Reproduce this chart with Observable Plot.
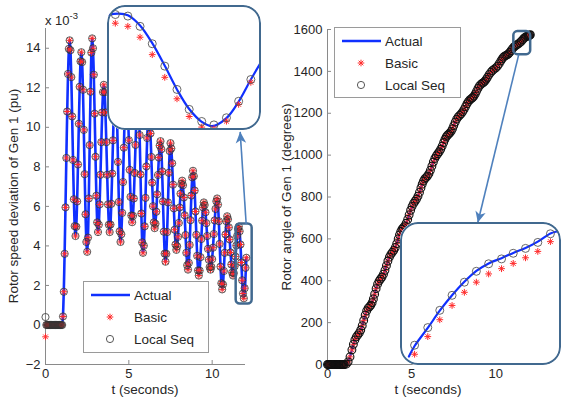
<!DOCTYPE html>
<html><head><meta charset="utf-8">
<script src="https://cdn.jsdelivr.net/npm/d3@7"></script>
<script src="https://cdn.jsdelivr.net/npm/@observablehq/plot@0.6"></script>
<style>
body{margin:0;background:#fff;}
#wrap{position:relative;width:562px;height:400px;overflow:hidden;background:#fff;font-family:"Liberation Sans",Arial,Helvetica,sans-serif;color:#262626;}
.txt{position:absolute;white-space:nowrap;line-height:1;}
.ylab{position:absolute;white-space:nowrap;font-size:13.5px;line-height:1;transform:translate(-50%,-50%) rotate(-90deg);}
.inset{position:absolute;border-radius:18px;overflow:hidden;background:#fff;}
.inset .bd{position:absolute;left:0;top:0;right:0;bottom:0;border:2.5px solid #41698f;border-radius:18px;box-sizing:border-box;}
.legend{position:absolute;border:1px solid #9a9a9a;background:#fff;box-sizing:border-box;}
.legend svg text{font-family:"Liberation Sans",Arial,sans-serif;font-size:13.5px;fill:#262626;}
</style></head>
<body>
<div id="wrap"></div>
<script>
// ---------------- DATA ----------------
// Left panel: rotor speed deviation of Gen 1 (x 1e-3 pu)
// "Actual" trajectory: read extremes (peaks / troughs) of the oscillation
const actualSpeedT = [0, 1.00, 1.45, 1.80, 2.15, 2.50, 2.80, 3.15, 3.50, 3.85, 4.20, 4.50, 4.85, 5.20, 5.55, 5.85, 6.20, 6.55, 6.90, 7.20, 7.50, 7.85, 8.20, 8.55, 8.85, 9.20, 9.50, 9.90, 10.30, 10.60, 10.90, 11.25, 11.60, 11.90, 12.05];
const actualSpeedV = [0, 0, 14.4, 4.5, 13.8, 3.7, 14.5, 4.7, 12.15, 4.7, 12.3, 4.2, 12.0, 5.2, 11.6, 3.65, 10.8, 4.9, 9.3, 3.2, 9.2, 3.8, 7.3, 2.8, 7.8, 2.5, 6.2, 2.8, 6.4, 1.8, 5.5, 2.5, 4.98, 1.35, 3.4];
// estimator samples, one every 0.05 s (rows = 1 s each)
const speedStep = 0.05;
const speedLocal = [
  0.4, 0, 0, 0, 0, 0, 0, 0, 0, 0, 0, 0, 0, 0, 0, 0, 0, 0, 0, 0,
  0, 0.43, 1.68, 3.6, 5.95, 8.45, 10.8, 12.7, 13.97, 14.4, 13.9, 12.54, 10.55, 8.35, 6.36, 5.0, 4.5, 4.97, 6.25, 8.12,
  10.18, 12.05, 13.34, 13.8, 13.3, 11.9, 9.87, 7.63, 5.6, 4.2, 3.7, 4.42, 6.4, 9.1, 11.8, 13.78, 14.5, 14.0, 12.66, 10.69,
  8.51, 6.54, 5.19, 4.7, 5.07, 6.1, 7.6, 9.25, 10.75, 11.78, 12.15, 11.78, 10.75, 9.25, 7.6, 6.1, 5.07, 4.7, 5.08, 6.13,
  7.66, 9.34, 10.87, 11.92, 12.3, 11.76, 10.27, 8.25, 6.22, 4.74, 4.2, 4.59, 5.67, 7.23, 8.97, 10.53, 11.61, 12.0, 11.66, 10.72,
  9.35, 7.85, 6.48, 5.54, 5.2, 5.52, 6.4, 7.69, 9.11, 10.4, 11.28, 11.6, 11.07, 9.61, 7.62, 5.64, 4.18, 3.65, 4.01, 4.99,
  6.43, 8.02, 9.46, 10.44, 10.8, 10.5, 9.69, 8.5, 7.2, 6.01, 5.19, 4.9, 5.12, 5.73, 6.61, 7.59, 8.47, 9.08, 9.3, 8.89,
  7.77, 6.25, 4.72, 3.61, 3.2, 3.6, 4.7, 6.2, 7.7, 8.8, 9.2, 8.93, 8.18, 7.1, 5.9, 4.82, 4.07, 3.8, 3.98, 4.46,
  5.16, 5.94, 6.64, 7.13, 7.3, 7.07, 6.45, 5.55, 4.55, 3.65, 3.02, 2.8, 3.14, 4.05, 5.3, 6.55, 7.47, 7.8, 7.53, 6.8,
  5.74, 4.56, 3.5, 2.76, 2.5, 2.75, 3.43, 4.35, 5.28, 5.95, 6.2, 6.07, 5.7, 5.15, 4.5, 3.85, 3.3, 2.93, 2.8, 2.94,
  3.33, 3.91, 4.6, 5.29, 5.87, 6.26, 6.4, 6.09, 5.25, 4.1, 2.95, 2.11, 1.8, 2.05, 2.73, 3.65, 4.58, 5.25, 5.5, 5.35,
  4.94, 4.33, 3.67, 3.06, 2.65, 2.5, 2.62, 2.97, 3.46, 4.02, 4.51, 4.86, 4.98, 4.74, 4.07, 3.16, 2.26, 1.59, 1.35, 1.86,
  2.89, 3.4
];
// Basic coincides with Local Seq at this scale except the first sample
const speedBasicFirst = -0.6;
const speedXTicks = [0, 5, 10];
const speedYTicks = [-2, 0, 2, 4, 6, 8, 10, 12, 14];
const speedZoomBox = {t1: 11.44, t2: 12.4, v1: 1.06, v2: 5.11};
const speedArrow = {t1: 12.04, v1: 5.11, t2: 11.68, v2: 9.77};

// Left inset (zoom of the last swing)
const insetSpeedT = [11.590, 11.630, 11.669, 11.708, 11.748, 11.787, 11.826, 11.866, 11.905, 11.945, 11.984, 12.023];
const insetSpeedLocal = [4.95, 4.90, 4.57, 4.01, 3.29, 2.54, 1.90, 1.51, 1.40, 1.63, 2.16, 2.86];
const insetSpeedBasic = [4.67, 4.57, 4.22, 3.66, 2.93, 2.24, 1.67, 1.33, 1.28, 1.52, 2.06, 2.77];
const insetSpeedActualT = [11.565, 11.600, 11.630, 11.669, 11.708, 11.748, 11.787, 11.826, 11.866, 11.899, 11.945, 11.984, 12.023, 12.060];
const insetSpeedActualV = [4.94, 4.98, 4.93, 4.60, 4.03, 3.30, 2.54, 1.91, 1.50, 1.36, 1.62, 2.15, 2.86, 3.50];

// Right panel: rotor angle of Gen 1 (degrees) — swing extremes and mid-swing points
const angleT = [0, 0.1, 0.2, 0.3, 0.4, 0.5, 0.6, 0.7, 0.8, 0.9, 1.0, 1.225, 1.45, 1.625, 1.8, 1.975, 2.15, 2.325, 2.5, 2.65, 2.8, 2.975, 3.15, 3.325, 3.5, 3.675, 3.85, 4.025, 4.2, 4.35, 4.5, 4.675, 4.85, 5.025, 5.2, 5.375, 5.55, 5.7, 5.85, 6.025, 6.2, 6.375, 6.55, 6.725, 6.9, 7.05, 7.2, 7.35, 7.5, 7.675, 7.85, 8.025, 8.2, 8.375, 8.55, 8.7, 8.85, 9.025, 9.2, 9.35, 9.5, 9.7, 9.9, 10.1, 10.3, 10.45, 10.6, 10.75, 10.9, 11.075, 11.25, 11.425, 11.6, 11.75, 11.9, 11.975, 12.05];
const angleV = [0, 0, 0, 0, 0, 0, 0, 0, 0, 0, 0, 12.7, 70, 117.6, 141.4, 164.8, 210.6, 255.8, 276.8, 295.2, 335.7, 383.8, 408.3, 431.2, 472, 512.8, 535.7, 558.7, 600, 635.1, 653.5, 674.7, 714.7, 755.4, 779.7, 803.8, 843.2, 876.1, 892.6, 911.3, 947.2, 984, 1006.5, 1028, 1060.2, 1086.7, 1100.7, 1114.6, 1140.9, 1172, 1190, 1206.8, 1232, 1256.5, 1270.2, 1282.2, 1304.5, 1330.3, 1343.4, 1353.7, 1371.6, 1395.7, 1410.5, 1425.4, 1450.2, 1467.7, 1476, 1483.8, 1499, 1516.4, 1527, 1536.9, 1552, 1563.6, 1569, 1571.2, 1575];
// quarter-swing points (denser sampling of the same trajectory)
const angleQuarterT = [0.05, 0.15, 0.25, 0.35, 0.45, 0.55, 0.65, 0.75, 0.85, 0.95, 1.1125, 1.3375, 1.5375, 1.7125, 1.8875, 2.0625, 2.2375, 2.4125, 2.575, 2.725, 2.8875, 3.0625, 3.2375, 3.4125, 3.5875, 3.7625, 3.9375, 4.1125, 4.275, 4.425, 4.5875, 4.7625, 4.9375, 5.1125, 5.2875, 5.4625, 5.625, 5.775, 5.9375, 6.1125, 6.2875, 6.4625, 6.6375, 6.8125, 6.975, 7.125, 7.275, 7.425, 7.5875, 7.7625, 7.9375, 8.1125, 8.2875, 8.4625, 8.625, 8.775, 8.9375, 9.1125, 9.275, 9.425, 9.6, 9.8, 10.0, 10.2, 10.375, 10.525, 10.675, 10.825, 10.9875, 11.1625, 11.3375, 11.5125, 11.675, 11.825, 11.9375, 12.0125];
const angleQuarterV = [0, 0, 0, 0, 0, 0, 0, 0, 0, 0, 1.7, 36.7, 96.3, 132.0, 150.8, 185.4, 235.7, 268.8, 283.7, 313.2, 362.2, 398.5, 417.9, 449.7, 494.3, 526.1, 545.3, 577.4, 619.3, 646.0, 662.2, 692.8, 736.7, 769.3, 790.1, 821.9, 861.4, 886.1, 900.2, 927.5, 967.1, 996.7, 1016.2, 1043.0, 1074.8, 1095.0, 1106.4, 1126.5, 1157.8, 1182.4, 1197.5, 1218.5, 1245.4, 1264.5, 1275.1, 1292.3, 1318.7, 1338.2, 1347.7, 1361.8, 1384.6, 1404.1, 1416.9, 1436.8, 1459.9, 1472.8, 1479.1, 1490.6, 1508.4, 1522.4, 1531.4, 1543.9, 1558.5, 1566.9, 1569.9, 1572.9];
const angleXTicks = [0, 5, 10];
const angleYTicks = [0, 200, 400, 600, 800, 1000, 1200, 1400, 1600];
const angleZoomBox = {t1: 11.07, t2: 12.07, v1: 1480, v2: 1590};
const angleArrow = {t1: 11.36, v1: 1480, t2: 8.93, v2: 678};

// Right inset (zoom of the end of the trajectory)
const insetAngleT = [11.589, 11.633, 11.673, 11.714, 11.755, 11.795, 11.836, 11.879, 11.918, 11.959, 12.000, 12.042];
const insetAngleLocal = [1536.0, 1540.7, 1545.3, 1549.3, 1552.8, 1555.7, 1557.7, 1559.0, 1560.5, 1561.8, 1563.4, 1565.7];
const insetAngleBasic = [1533.6, 1538.3, 1542.8, 1546.6, 1550.1, 1552.8, 1555.0, 1556.4, 1557.8, 1559.3, 1561.0, 1563.6];
const insetAngleActualT = [11.570, 11.589, 11.633, 11.673, 11.714, 11.755, 11.795, 11.836, 11.879, 11.918, 11.959, 12.000, 12.042, 12.064];
const insetAngleActualV = [1533.0, 1535.8, 1540.6, 1545.2, 1549.3, 1552.9, 1555.8, 1557.8, 1559.2, 1560.6, 1561.9, 1563.6, 1565.8, 1566.3];

const seriesNames = ["Actual", "Basic", "Local Seq"];

// ---------------- STYLE ----------------
const FONT = '"Liberation Sans", Arial, Helvetica, sans-serif';
const BLUE = "#1030ff", RED = "#ff2b2b", CIRC = "#333", FRAME = "#41698f", ARROW = "#4f81bd", AXIS = "#8a8a8a", TXT = "#262626";

const asterisk8 = {
  draw(ctx, size) {
    const r = Math.sqrt(size / Math.PI), d = r * Math.SQRT1_2;
    ctx.moveTo(-r, 0); ctx.lineTo(r, 0);
    ctx.moveTo(0, -r); ctx.lineTo(0, r);
    ctx.moveTo(-d, -d); ctx.lineTo(d, d);
    ctx.moveTo(-d, d); ctx.lineTo(d, -d);
  }
};
const arrowHead = {
  draw(ctx, size) {
    const s = Math.sqrt(size / Math.PI);
    ctx.moveTo(0, 0); ctx.lineTo(-s * 0.75, s * 1.6); ctx.lineTo(0, s * 1.15); ctx.lineTo(s * 0.75, s * 1.6); ctx.closePath();
  }
};

const wrap = document.getElementById("wrap");
function place(el, left, top, parent = wrap) {
  el.style.position = "absolute"; el.style.left = left + "px"; el.style.top = top + "px";
  parent.appendChild(el); return el;
}
const baseStyle = {fontFamily: FONT, fontSize: "13px", color: TXT, background: "none", overflow: "visible"};

function axes(xt, yt) {
  return [
    Plot.axisX(xt, {tickSize: 0, tickPadding: 4, stroke: "none", fill: TXT, label: null, tickFormat: d3.format("d")}),
    Plot.axisX(xt, {tickSize: -4, fill: "none", stroke: AXIS, label: null}),
    Plot.axisY(yt, {tickSize: 0, tickPadding: 5, stroke: "none", fill: TXT, label: null, tickFormat: d3.format("d")}),
    Plot.axisY(yt, {tickSize: -4, fill: "none", stroke: AXIS, label: null})
  ];
}

// ---------------- LEFT PANEL ----------------
const speedRows = speedLocal.map((v, i) => ({t: i * speedStep, local: v, basic: i === 0 ? speedBasicFirst : v}));
const actualSpeedRows = actualSpeedT.map((t, i) => ({t, v: actualSpeedV[i]}));
const left = Plot.plot({
  width: 280, height: 400, marginLeft: 45, marginRight: 35, marginTop: 28, marginBottom: 36,
  style: baseStyle,
  x: {domain: [0, 12]}, y: {domain: [-2, 15]},
  marks: [
    ...axes(speedXTicks, speedYTicks),
    Plot.ruleX([0], {y1: -2, y2: 15, stroke: AXIS}),
    Plot.ruleY([-2], {x1: 0, x2: 12, stroke: AXIS}),
    Plot.line(actualSpeedRows, {x: "t", y: "v", curve: "monotone-x", stroke: BLUE, strokeWidth: 2.6}),
    Plot.dot(speedRows, {x: "t", y: "basic", symbol: asterisk8, r: 3.3, stroke: RED, strokeWidth: 1, fill: "none"}),
    Plot.dot(speedRows, {x: "t", y: "local", r: 3.6, stroke: CIRC, strokeWidth: 0.8, fill: "none"}),
    Plot.rect([speedZoomBox], {x1: "t1", x2: "t2", y1: "v1", y2: "v2", rx: 4, fill: "none", stroke: FRAME, strokeWidth: 2.5}),
    Plot.link([speedArrow], {x1: "t1", y1: "v1", x2: "t2", y2: "v2", stroke: ARROW, strokeWidth: 1.6}),
    Plot.dot([speedArrow], {x: "t2", y: "v2", symbol: arrowHead, r: 7, fill: ARROW, stroke: "none", rotate: -4})
  ]
});
place(left, 0, 0);

// ---------------- RIGHT PANEL ----------------
const angleRows = [
  ...angleT.map((t, i) => ({t, v: angleV[i]})),
  ...angleQuarterT.map((t, i) => ({t, v: angleQuarterV[i]}))
].sort((a, b) => a.t - b.t);
const right = Plot.plot({
  width: 249, height: 400, marginLeft: 47, marginRight: 0, marginTop: 29, marginBottom: 36,
  style: baseStyle,
  x: {domain: [0, 12]}, y: {domain: [0, 1600]},
  marks: [
    ...axes(angleXTicks, angleYTicks),
    Plot.ruleX([0], {y1: 0, y2: 1600, stroke: AXIS}),
    Plot.ruleY([0], {x1: 0, x2: 12, stroke: AXIS}),
    Plot.line(angleRows, {x: "t", y: "v", curve: "monotone-x", stroke: BLUE, strokeWidth: 2.2}),
    Plot.dot(angleRows, {x: "t", y: "v", symbol: asterisk8, r: 3.2, stroke: RED, strokeWidth: 0.9, fill: "none"}),
    Plot.dot(angleRows, {x: "t", y: "v", r: 3.9, stroke: "#111", strokeWidth: 1.1, fill: "none"}),
    Plot.rect([angleZoomBox], {x1: "t1", x2: "t2", y1: "v1", y2: "v2", rx: 4, fill: "none", stroke: FRAME, strokeWidth: 2.5}),
    Plot.link([angleArrow], {x1: "t1", y1: "v1", x2: "t2", y2: "v2", stroke: ARROW, strokeWidth: 1.6}),
    Plot.dot([angleArrow], {x: "t2", y: "v2", symbol: arrowHead, r: 7, fill: ARROW, stroke: "none", rotate: 194})
  ]
});
place(right, 280, 0);

// ---------------- INSETS ----------------
function inset(left, top, w, h, plotEl) {
  const box = document.createElement("div");
  box.className = "inset";
  box.style.left = left + "px"; box.style.top = top + "px"; box.style.width = w + "px"; box.style.height = h + "px";
  place(plotEl, 0, 0, box);
  const bd = document.createElement("div"); bd.className = "bd"; box.appendChild(bd);
  wrap.appendChild(box);
}
const insetSpeedRows = insetSpeedT.map((t, i) => ({t, local: insetSpeedLocal[i], basic: insetSpeedBasic[i]}));
const insetSpeedLine = insetSpeedActualT.map((t, i) => ({t, v: insetSpeedActualV[i]}));
inset(107, 5, 154, 125, Plot.plot({
  width: 154, height: 125, margin: 0, style: {background: "#fff"},
  x: {domain: [11.565, 12.057], axis: null}, y: {domain: [1.22, 5.24], axis: null},
  marks: [
    Plot.line(insetSpeedLine, {x: "t", y: "v", curve: "catmull-rom", stroke: BLUE, strokeWidth: 2.2}),
    Plot.dot(insetSpeedRows, {x: "t", y: "basic", symbol: asterisk8, r: 3.4, stroke: RED, strokeWidth: 1, fill: "none"}),
    Plot.dot(insetSpeedRows, {x: "t", y: "local", r: 4, stroke: "#555", strokeWidth: 0.9, fill: "none"})
  ]
}));
const insetAngleRows = insetAngleT.map((t, i) => ({t, local: insetAngleLocal[i], basic: insetAngleBasic[i]}));
const insetAngleLine = insetAngleActualT.map((t, i) => ({t, v: insetAngleActualV[i]}));
inset(400, 222, 161, 143, Plot.plot({
  width: 161, height: 143, margin: 0, style: {background: "#fff"},
  x: {domain: [11.542, 12.079], axis: null}, y: {domain: [1530.6, 1568.7], axis: null},
  marks: [
    Plot.line(insetAngleLine, {x: "t", y: "v", curve: "catmull-rom", stroke: BLUE, strokeWidth: 2.2}),
    Plot.dot(insetAngleRows, {x: "t", y: "basic", symbol: asterisk8, r: 3.4, stroke: RED, strokeWidth: 1, fill: "none"}),
    Plot.dot(insetAngleRows, {x: "t", y: "local", r: 4, stroke: "#555", strokeWidth: 0.9, fill: "none"})
  ]
}));

// ---------------- LEGENDS ----------------
function legend(left, top, w, h) {
  const div = document.createElement("div");
  div.className = "legend";
  div.style.left = left + "px"; div.style.top = top + "px"; div.style.width = w + "px"; div.style.height = h + "px";
  const ns = "http://www.w3.org/2000/svg";
  const svg = document.createElementNS(ns, "svg");
  svg.setAttribute("width", w); svg.setAttribute("height", h);
  svg.style.position = "absolute"; svg.style.left = "-1px"; svg.style.top = "-1px";
  const r = 3.3, d = r * Math.SQRT1_2, sx = 27, sy = 36;
  svg.innerHTML =
    `<line x1="8" x2="47" y1="14" y2="14" stroke="${BLUE}" stroke-width="2.6"/>` +
    `<path d="M${sx - r},${sy}H${sx + r}M${sx},${sy - r}V${sy + r}M${sx - d},${sy - d}L${sx + d},${sy + d}M${sx - d},${sy + d}L${sx + d},${sy - d}" stroke="${RED}" stroke-width="1" fill="none"/>` +
    `<circle cx="27" cy="58" r="3.6" stroke="#444" stroke-width="0.9" fill="none"/>` +
    seriesNames.map((s, i) => `<text x="51" y="${14 + 22 * i}" dy="0.36em">${s}</text>`).join("");
  div.appendChild(svg);
  wrap.appendChild(div);
}
legend(83, 281, 126, 72);
legend(334, 27, 127, 71);

// ---------------- TITLES ----------------
function text(html, left, top, cls = "txt", size = 13.5) {
  const d = document.createElement("div"); d.className = cls; d.innerHTML = html;
  d.style.left = left + "px"; d.style.top = top + "px"; d.style.fontSize = size + "px";
  wrap.appendChild(d); return d;
}
text("Rotor speed deviation of Gen 1 (pu)", 14, 196, "ylab");
text("Rotor angle of Gen 1 (degrees)", 287, 197, "ylab");
const xl1 = text("t (seconds)", 145, 383); xl1.style.transform = "translateX(-50%)";
const xl2 = text("t (seconds)", 428, 383); xl2.style.transform = "translateX(-50%)";
text('x 10<span style="font-size:9.5px;position:relative;top:-6px;">-3</span>', 45, 14, "txt", 13);
</script>
</body></html>
